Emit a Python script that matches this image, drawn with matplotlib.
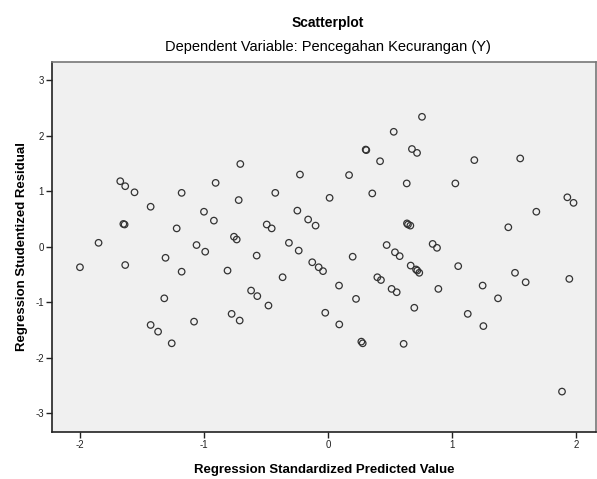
import matplotlib
matplotlib.use("Agg")
import matplotlib.pyplot as plt

plt.rcParams['font.family'] = ['Liberation Sans', 'DejaVu Sans']
plt.rcParams['axes.unicode_minus'] = False

# standardized predicted value (x) and studentized residual (y)
pred = [-2.00, -1.85, -1.675, -1.635, -1.56, -1.65, -1.64, -1.635, -1.43, -1.22,
        -1.18, -1.31, -1.18, -1.32, -1.43, -1.37, -1.26, -1.08, -1.06, -0.99,
        -1.00, -0.92, -0.906, -0.81, -0.707, -0.72, -0.758, -0.736, -0.575, -0.62,
        -0.57, -0.48, -0.777, -0.712, -0.494, -0.454, -0.425, -0.366, -0.315, -0.236,
        -0.226, -0.247, -0.16, -0.10, -0.127, -0.075, -0.04, 0.013, 0.17, 0.199,
        0.089, 0.226, -0.022, 0.091, 0.269, 0.28, 0.304, 0.309, 0.357, 0.42,
        0.53, 0.758, 0.677, 0.718, 0.635, 0.637, 0.645, 0.664, 0.473, 0.54,
        0.578, 0.844, 0.879, 0.398, 0.427, 0.667, 0.71, 0.72, 0.736, 0.513,
        0.554, 0.89, 0.696, 0.61, 1.027, 1.18, 1.55, 1.454, 1.68, 1.93,
        1.98, 1.05, 1.247, 1.371, 1.127, 1.253, 1.508, 1.594, 1.946, 1.887]
resid = [-0.37, 0.07, 1.18, 1.09, 0.98, 0.41, 0.40, -0.33, 0.72, 0.33,
         0.97, -0.20, -0.45, -0.93, -1.41, -1.53, -1.74, -1.35, 0.03, -0.09,
         0.63, 0.47, 1.15, -0.43, 1.49, 0.84, 0.18, 0.13, -0.16, -0.79,
         -0.89, -1.06, -1.21, -1.33, 0.40, 0.33, 0.97, -0.55, 0.07, -0.07,
         1.30, 0.65, 0.49, 0.38, -0.28, -0.37, -0.44, 0.88, 1.29, -0.18,
         -0.70, -0.94, -1.19, -1.40, -1.71, -1.74, 1.75, 1.74, 0.96, 1.54,
         2.07, 2.34, 1.76, 1.69, 1.14, 0.42, 0.40, 0.38, 0.03, -0.10,
         -0.17, 0.05, -0.02, -0.55, -0.60, -0.34, -0.41, -0.43, -0.47, -0.76,
         -0.82, -0.76, -1.10, -1.75, 1.14, 1.56, 1.59, 0.35, 0.63, 0.89,
         0.79, -0.35, -0.70, -0.93, -1.21, -1.43, -0.47, -0.64, -0.58, -2.61]

xticks = [-2, -1, 0, 1, 2]
yticks = [-3, -2, -1, 0, 1, 2, 3]

fig = plt.figure(figsize=(5.97, 4.79), dpi=100)
ax = fig.add_axes([0.0876, 0.0987, 0.9107, 0.7725])
ax.set_facecolor('#f0f0f0')

ax.scatter(pred, resid, s=22, facecolors='none', edgecolors='#333333', linewidths=0.9)

ax.set_xlim(-2.223, 2.161)
ax.set_ylim(-3.333, 3.333)
ax.set_xticks(xticks)
ax.set_yticks(yticks)
ax.set_xticklabels([str(t) for t in xticks])
ax.set_yticklabels([str(t) for t in yticks])
ax.tick_params(direction='out', length=4, width=1, labelsize=7, colors='#222222', pad=2)

for side in ['left', 'bottom']:
    ax.spines[side].set_color('#222222')
    ax.spines[side].set_linewidth(1.2)
for side in ['top', 'right']:
    ax.spines[side].set_color('#777777')
    ax.spines[side].set_linewidth(1.2)

ax.set_xlabel('Regression Standardized Predicted Value', fontsize=9.5, fontweight='bold', labelpad=10)
ax.set_ylabel('Regression Studentized Residual', fontsize=9.5, fontweight='bold', labelpad=5)

fig.text(0.5485, 0.953, 'Scatterplot', ha='center', va='center', fontsize=10, fontweight='bold')
fig.text(0.5485, 0.901, 'Dependent Variable: Pencegahan Kecurangan (Y)', ha='center', va='center', fontsize=10.5)

fig.savefig('out.png', dpi=100, facecolor='white')
